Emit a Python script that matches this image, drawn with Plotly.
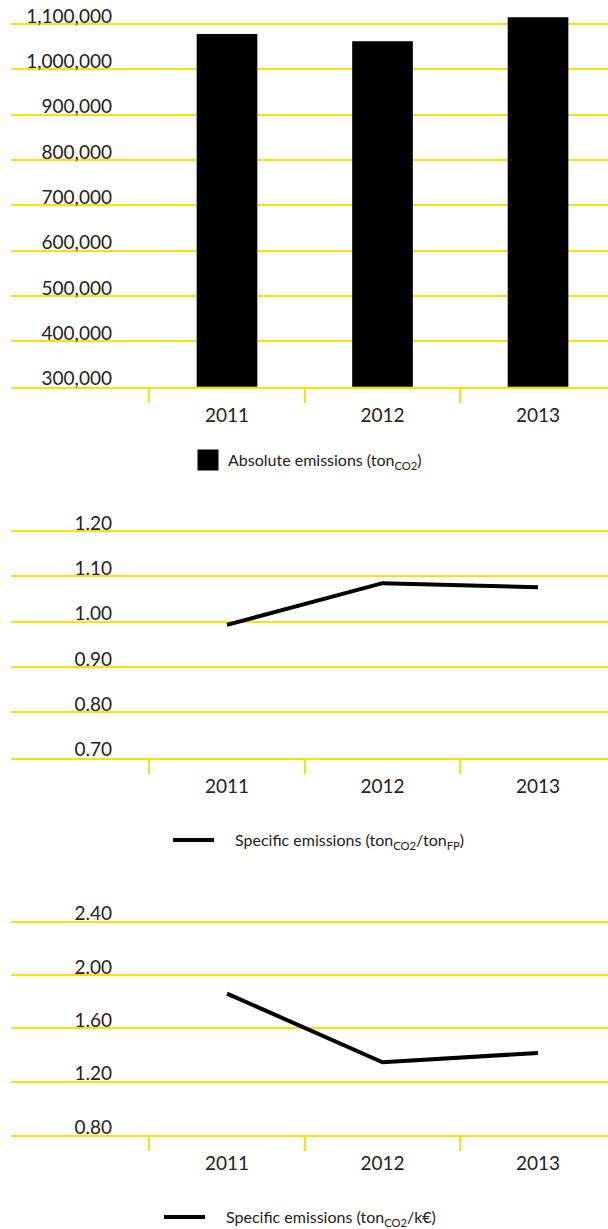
import plotly.graph_objects as go

# Data
years = ["2011", "2012", "2013"]
absolute_emissions = [1078000, 1062000, 1115000]   # ton CO2
specific_per_fp = [0.993, 1.085, 1.076]             # ton CO2 / ton FP
specific_per_keur = [1.86, 1.345, 1.415]            # ton CO2 / k€

W, H = 608, 1229
YELLOW = "#FFE000"
INK = "#222222"
FONT = "Lato"
GAP = "\u2003\u2005"  # extra space between legend line and its label


def fx(px):
    return px / W


def fy(px):
    return 1 - px / H


fig = go.Figure()

# Absolute emissions (bars)
fig.add_trace(go.Bar(
    x=years, y=absolute_emissions, marker_color="black", marker_line_width=0,
    xaxis="x", yaxis="y", showlegend=False, width=0.39,
))
fig.add_trace(go.Scatter(
    x=[None], y=[None], mode="markers", xaxis="x", yaxis="y",
    marker=dict(symbol="square", size=16, color="black",
                line=dict(color="black", width=5)),
    name="Absolute emissions (ton<sub>CO2</sub>)", legend="legend",
))

# Specific emissions per ton of finished product
fig.add_trace(go.Scatter(
    x=years, y=specific_per_fp, mode="lines", xaxis="x2", yaxis="y2",
    line=dict(color="black", width=4),
    name=GAP + "Specific emissions (ton<sub>CO2</sub>/ton<sub>FP</sub>)",
    legend="legend2",
))

# Specific emissions per k€
fig.add_trace(go.Scatter(
    x=years, y=specific_per_keur, mode="lines", xaxis="x3", yaxis="y3",
    line=dict(color="black", width=4),
    name=GAP + "Specific emissions (ton<sub>CO2</sub>/k€)",
    legend="legend3",
))

x_range = [-1.389, 2.45]
x_common = dict(
    type="category", range=x_range, domain=[fx(11), 1],
    showgrid=False, zeroline=False,
    showline=True, linecolor=YELLOW, linewidth=2,
    ticks="outside", tickson="boundaries", ticklen=14, tickwidth=2,
    tickcolor=YELLOW, tickfont=dict(family=FONT, size=19, color=INK),
    ticklabelstandoff=10, fixedrange=True,
)
y_common = dict(
    anchor="free", position=fx(112), side="left",
    showline=False, ticks="", zeroline=False,
    showgrid=True, gridcolor=YELLOW, gridwidth=2,
    tickfont=dict(family=FONT, size=19, color=INK),
    ticklabelshift=-8, fixedrange=True,
)
legend_common = dict(
    xanchor="left", yanchor="middle", yref="container",
    font=dict(family=FONT, size=16, color=INK),
    bgcolor="rgba(0,0,0,0)",
)

fig.update_layout(
    width=W, height=H,
    margin=dict(l=0, r=0, t=0, b=0, autoexpand=False),
    paper_bgcolor="white", plot_bgcolor="white",
    font=dict(family=FONT, color=INK),
    xaxis=dict(**x_common, anchor="y"),
    xaxis2=dict(**x_common, anchor="y2"),
    xaxis3=dict(**x_common, anchor="y3"),
    yaxis=dict(**y_common, domain=[fy(386.7), fy(0)],
               range=[300000, 1152900], tick0=300000, dtick=100000,
               tickformat=","),
    yaxis2=dict(**y_common, domain=[fy(757.7), fy(500)],
                range=[0.70, 1.2684], tick0=0.7, dtick=0.1,
                tickformat=".2f"),
    yaxis3=dict(**y_common, domain=[fy(1135), fy(895)],
                range=[0.80, 2.5986], tick0=0.8, dtick=0.4,
                tickformat=".2f"),
    legend=dict(**legend_common, x=fx(188), y=fy(460)),
    legend2=dict(**legend_common, x=fx(168), y=fy(840), itemwidth=41),
    legend3=dict(**legend_common, x=fx(159), y=fy(1217), itemwidth=41),
)

fig.write_html("out.html")
